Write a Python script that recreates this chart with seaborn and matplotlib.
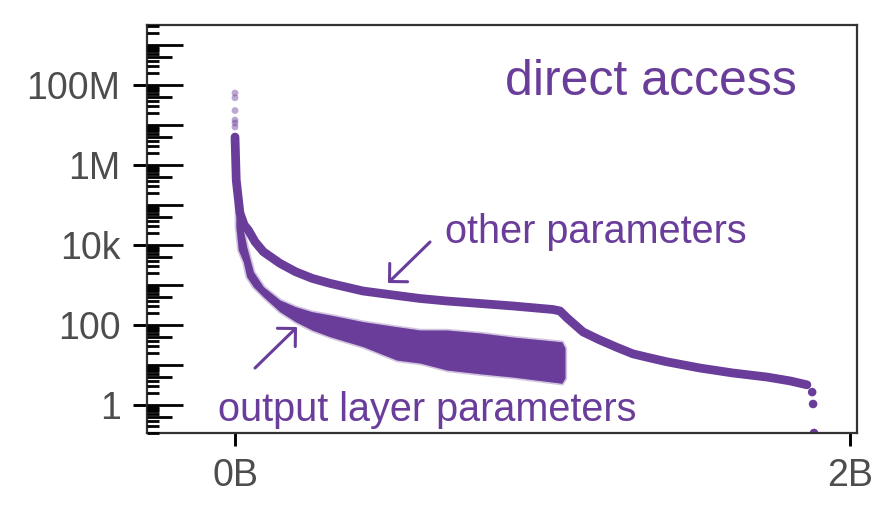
import numpy as np
import pandas as pd
import seaborn as sns
import matplotlib.pyplot as plt

# values (x in billions of parameters)
other_x = [0.0, 0.004, 0.016, 0.030, 0.0433, 0.065, 0.092, 0.146, 0.1967,
           0.2504, 0.309, 0.416, 0.527, 0.602, 0.689, 0.797, 0.904, 1.034,
           1.057, 1.080, 1.132, 1.187, 1.240, 1.294, 1.350, 1.405, 1.512,
           1.620, 1.730, 1.805, 1.860]
other_y = [5.0e6, 420000, 63000, 31600, 23700, 12100, 6800, 3490, 2150,
           1470, 1100, 708, 546, 460, 398, 345, 299, 244,
           224, 150, 67, 42, 28, 19, 15, 12, 8.4,
           6.3, 5.0, 4.0, 3.2]

# last isolated points of the other-parameter curve
tail_x = [1.877, 1.880, 1.883]
tail_y = [2.1, 1.06, 0.2]

# sparse points at the very top (x ~ 0)
top_x = [0.0, 0.0, 0.0, 0.0, 0.0, 0.0]
top_y = [6.3e7, 4.8e7, 2.3e7, 1.33e7, 1.12e7, 8.9e6]

# output layer band: upper and lower edge of the point cloud
out_x = [0.003, 0.0108, 0.0271, 0.0379, 0.0596, 0.0921, 0.146, 0.1967,
         0.2504, 0.309, 0.417, 0.526, 0.602, 0.689, 0.800, 0.904, 1.063,
         1.073]
out_top = [100000, 42000, 23700, 9080, 2150, 907, 422, 287,
           215, 178, 121, 90.7, 75, 75, 63, 50, 38,
           27]
out_bottom = [28000, 7500, 3800, 1610, 907, 510, 215, 121,
              75, 51, 28.7, 13.3, 11.2, 7.5, 6.0, 5.0, 3.5,
              4.7]

ytick_vals = [1, 100, 1e4, 1e6, 1e8]
ytick_labels = ["1", "100", "10k", "1M", "100M"]
xtick_vals = [0, 2]
xtick_labels = ["0B", "2B"]

purple = "#6a3d9a"

sns.set_theme(style="white")
plt.rcParams["font.family"] = ["Liberation Sans", "DejaVu Sans"]

fig = plt.figure(figsize=(8.83, 5.19), dpi=100)
ax = fig.add_axes([0.16648, 0.16570, 0.80407, 0.78613])

df_other = pd.DataFrame({"x": other_x, "y": other_y})
df_out = pd.DataFrame({"x": out_x, "top": out_top, "bottom": out_bottom})

# output layer cloud: soft halo + solid core
ax.fill_between(df_out["x"], df_out["bottom"], df_out["top"], color=purple,
                alpha=0.3, lw=2.5, edgecolor=purple)
ax.fill_between(df_out["x"], df_out["bottom"], df_out["top"], color=purple,
                alpha=1.0, lw=0)

# other parameters curve
sns.lineplot(data=df_other, x="x", y="y", ax=ax, color=purple, lw=6.3,
             estimator=None, sort=False, solid_capstyle="round",
             solid_joinstyle="round")
sns.scatterplot(x=tail_x, y=tail_y, ax=ax, color=purple, s=38,
                edgecolor="none")
sns.scatterplot(x=top_x, y=top_y, ax=ax, color=purple, s=24, alpha=0.45,
                edgecolor="none")

ax.set_yscale("log")
ax.set_xlim(-0.2862, 2.0228)
ax.set_ylim(10 ** -0.7, 10 ** 9.5)

# labelled ticks
ax.set_yticks(ytick_vals)
ax.set_yticklabels(ytick_labels)
ax.set_xticks(xtick_vals)
ax.set_xticklabels(xtick_labels)
ax.set_yticks([], minor=True)
ax.tick_params(axis="y", direction="out", length=10, width=2.1, color="black",
               labelsize=27, labelcolor="#4d4d4d", pad=9, left=True)
ax.tick_params(axis="x", direction="out", length=9, width=2.1, color="black",
               labelsize=27, labelcolor="#4d4d4d", pad=9, bottom=True)
ax.set_xlabel("")
ax.set_ylabel("")

# log ticks inside the panel (long / mid / short)
ytr = ax.get_yaxis_transform()
for dec in range(-1, 10):
    for k in range(1, 10):
        v = k * 10.0 ** dec
        if v < 10 ** -0.7 or v > 10 ** 9.5:
            continue
        if k == 1:
            ln = 0.0507
        elif k == 5:
            ln = 0.035
        else:
            ln = 0.0169
        ax.plot([0, ln], [v, v], transform=ytr, color="black", lw=2.0,
                solid_capstyle="butt", clip_on=False, zorder=3)

for s in ax.spines.values():
    s.set_color("#333333")
    s.set_linewidth(1.6)

ax.text(0.7099, 0.8284, "direct access", transform=ax.transAxes, ha="center",
        va="baseline", fontsize=36, color=purple)
ax.text(0.4197, 0.4657, "other parameters", transform=ax.transAxes, ha="left",
        va="baseline", fontsize=28.5, color=purple)
ax.text(0.1, 0.0301, "output layer parameters", transform=ax.transAxes,
        ha="left", va="baseline", fontsize=28.5, color=purple)

arrow = dict(arrowstyle="->,head_length=0.46,head_width=0.46", lw=2.2,
             color=purple, mutation_scale=20, shrinkA=0, shrinkB=0)
ax.annotate("", xy=(0.3394, 0.3676), xytext=(0.3986, 0.4681),
            xycoords="axes fraction", arrowprops=arrow)
ax.annotate("", xy=(0.2113, 0.2598), xytext=(0.1521, 0.1593),
            xycoords="axes fraction", arrowprops=arrow)

fig.savefig("out.png", dpi=100)
